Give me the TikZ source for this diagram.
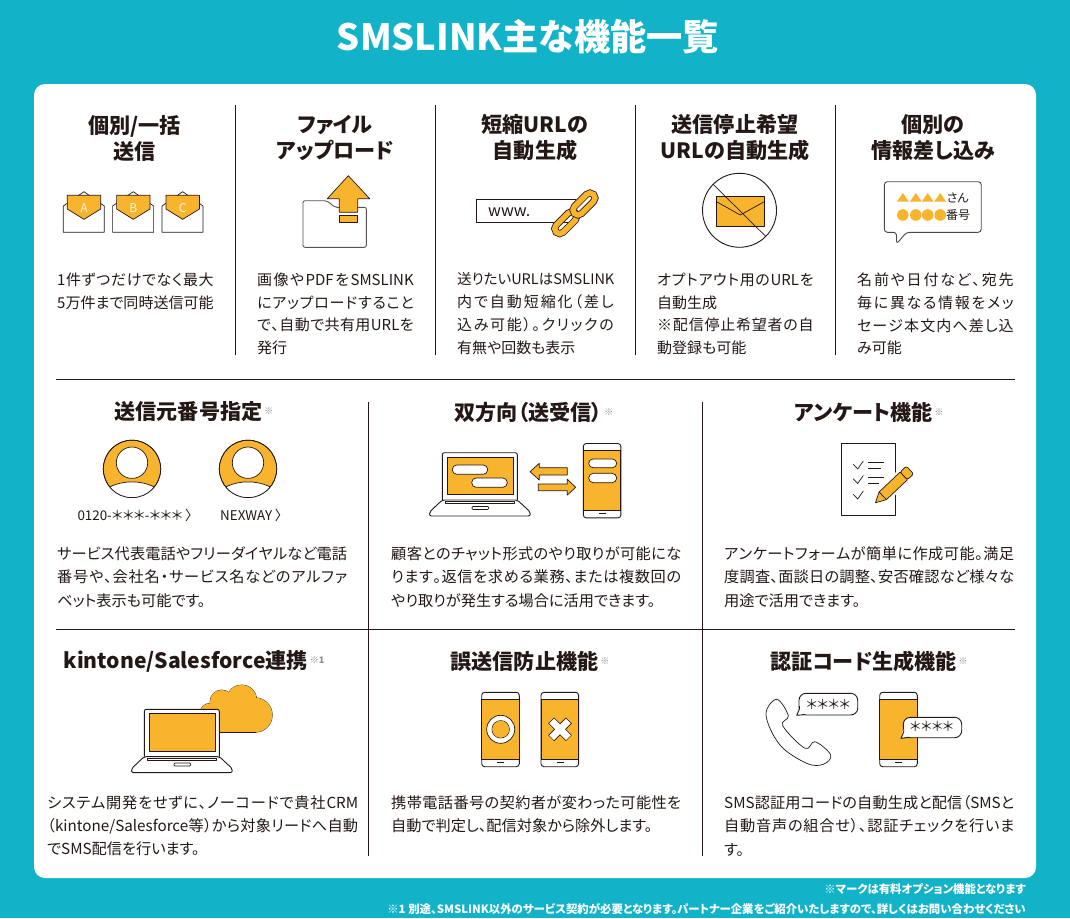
\documentclass[tikz,border=0pt]{standalone}
\usepackage{fontspec}
\setmainfont{Noto Sans CJK JP}[RawFeature=+palt]
\definecolor{teal1}{HTML}{12B3C9}
\definecolor{yel}{HTML}{F9B42D}
\definecolor{ink}{HTML}{231815}
% all CJK characters form one inter-character class, so that lines can be justified
\newXeTeXintercharclass\cjkclass
\newcount\cjkloop
\newcommand{\setcjk}[2]{\cjkloop=#1\relax
  \loop\ifnum\cjkloop<#2\relax\XeTeXcharclass\cjkloop=\cjkclass\relax\advance\cjkloop by 1\relax\repeat}
\setcjk{"3000}{"3100}
\setcjk{"4E00}{"A000}
\setcjk{"FF00}{"FFF0}
\XeTeXcharclass"203B=\cjkclass\relax
\XeTeXcharclass"30FB=\cjkclass\relax
\newcommand{\icglue}{\hskip 0pt plus 1fil\relax}
\XeTeXinterchartoks 0 \cjkclass = {\icglue}
\XeTeXinterchartoks \cjkclass 0 = {\icglue}
\XeTeXinterchartoks \cjkclass \cjkclass = {\icglue}
\newcommand{\jline}[2]{\hbox to #1{\XeTeXinterchartokenstate=1 #2\XeTeXinterchartokenstate=0 }}
\newcommand{\jtop}[1]{\jline{156.5pt}{#1}}
\newcommand{\jtopS}[1]{\jline{156.5pt}{\fontsize{14.5}{22.8}\selectfont #1}}
\newcommand{\jmid}[1]{\jline{290pt}{#1}}
\newcommand{\jwide}[1]{\jline{311pt}{#1}}
\tikzset{
  bodytext/.style={anchor=north west,inner sep=0pt,align=left,text=ink,font=\fontsize{15.2}{23.4}\selectfont},
  bodytop/.style={anchor=north west,inner sep=0pt,align=left,text=ink,font=\fontsize{15}{22.8}\selectfont},
  hdr/.style={anchor=center,inner sep=0pt,align=center,text=ink,font=\bfseries\fontsize{21.1}{26}\selectfont},
  foot/.style={anchor=east,inner sep=0pt,text=white,font=\bfseries\fontsize{11.4}{12}\selectfont},
  rulez/.style={draw=ink,line width=0.9pt},
  ic/.style={draw=ink,line width=0.9pt,line join=round},
  thin1/.style={draw=ink,line width=0.7pt,line join=round},
}
\newcommand{\nt}{\kern2pt{\color{black!45}\fontsize{9}{9}\selectfont\raisebox{5pt}{※}}}
\newcommand{\phoneicon}[2]{%
 \begin{scope}[shift={(#1,#2)}]
  \draw[ic,fill=white,rounded corners=3pt] (0,0) rectangle (37.6,74.4);
  \fill[yel] (0,6.7) rectangle (37.6,67.4);
  \draw[ic] (0,6.7) -- (37.6,6.7) (0,67.4) -- (37.6,67.4) (0,6.7) -- (0,67.4) (37.6,6.7) -- (37.6,67.4);
  \draw[ic] (15.5,70.2) -- (22.5,70.2);
 \end{scope}}
\newcommand{\laptopicon}[2]{%
 \begin{scope}[shift={(#1,#2)}]
  \draw[ic,fill=white,rounded corners=2pt] (0,47.3) -- (0,0) -- (75,0) -- (75,47.3);
  \draw[thin1,fill=yel] (5,4.5) rectangle (71,42);
  \draw[ic,fill=white,rounded corners=2pt] (0,47.3) -- (-12.8,59.3) -- (-12.8,63.3) -- (88,63.3) -- (88,59.3) -- (75,47.3) -- cycle;
  \draw[thin1] (3.4,49) rectangle (72.4,51);
  \draw[thin1,rounded corners=1pt] (29.7,53.7) rectangle (46.4,56.7);
 \end{scope}}
\newcommand{\envicon}[2]{%
 \begin{scope}[shift={(#1,0)}]
  \draw[thin1,fill=white] (63.3,206) -- (84,191.7) -- (104.3,206) -- (104.3,232.3) -- (63.3,232.3) -- cycle;
  \draw[thin1,fill=yel] (67.3,195.3) -- (100.7,195.3) -- (100.7,209) -- (84,219.3) -- (67.3,209) -- cycle;
  \node[inner sep=0pt,text=white!85!yel,font=\fontsize{12}{12}\selectfont] (env#2) at (84,208) {#2};
 \end{scope}}
\newcommand{\personicon}[1]{%
 \begin{scope}[shift={(#1,0)}]
  \draw[thin1,fill=yel] (0,468.9) circle (28.7);
  \begin{scope}
   \clip (0,468.9) circle (28.7);
   \draw[thin1,fill=white] (-30,492) .. controls (-14,478.5) and (14,478.5) .. (30,492) -- (30,500) -- (-30,500) -- cycle;
  \end{scope}
  \draw[thin1] (0,468.9) circle (28.7);
  \draw[thin1,fill=white] (0,462.7) circle (15.7);
 \end{scope}}
\newcommand{\chainlink}[2]{%
 \begin{scope}[shift={(#1,#2)},rotate=45]
  \draw[ink,line width=7pt,rounded corners=5pt] (-13.5,-5) rectangle (13.5,5);
  \draw[yel,line width=5.4pt,rounded corners=5pt] (-13.5,-5) rectangle (13.5,5);
 \end{scope}}
\begin{document}
\begin{tikzpicture}[x=1pt,y=-1pt]
\useasboundingbox (0,0) rectangle (1070,918);
\fill[teal1] (0,0) rectangle (1070,918);
\fill[white,rounded corners=11pt] (34,84) rectangle (1036,878);
\node[inner sep=0pt,text=white,font=\bfseries\fontsize{36.2}{40}\selectfont] (title) at (528,37) {SMSLINK主な機能一覧};

% dividers
\foreach \x in {235,435,635,835} \draw[rulez] (\x,105) -- (\x,355);
\draw[rulez] (56,379) -- (1015,379);
\draw[rulez] (56,629) -- (1015,629);
\foreach \x in {368,702} \draw[rulez] (\x,402) -- (\x,856);

% top row headers
\node[hdr] (h1) at (134.5,138) {個別/一括\\送信};
\node[hdr] (h2) at (335,138) {ファイル\\アップロード};
\node[hdr] (h3) at (535,138) {短縮URLの\\自動生成};
\node[hdr] (h4) at (735,138) {送信停止希望\\URLの自動生成};
\node[hdr] (h5) at (933,138) {個別の\\情報差し込み};

% top row bodies
\node[bodytop] (b1) at (57,272.6) {\jtop{1件ずつだけでなく最大}\\\jtop{5万件まで同時送信可能}};
\node[bodytop] (b2) at (257,272.6) {\jtop{画像やPDFをSMSLINK}\\\jtop{にアップロードすること}\\\jtop{で、自動で共有用URLを}\\発行};
\node[bodytop] (b3) at (457,272.6) {\jtopS{送りたいURLはSMSLINK}\\\jtop{内で自動短縮化（差し}\\\jtop{込み可能）。クリックの}\\有無や回数も表示};
\node[bodytop] (b4) at (657,272.6) {\jtop{オプトアウト用のURLを}\\自動生成\\\jtop{※配信停止希望者の自}\\動登録も可能};
\node[bodytop] (b5) at (857,272.6) {\jtop{名前や日付など、宛先}\\\jtop{毎に異なる情報をメッ}\\\jtop{セージ本文内へ差し込}\\み可能};

% row 2
\node[hdr] (h6) at (194,412) {送信元番号指定\nt};
\node[hdr] (h7) at (534,412) {双方向（送受信）\nt};
\node[hdr] (h8) at (869,412) {アンケート機能\nt};
\node[bodytext] (b6) at (57,546.2) {\jmid{サービス代表電話やフリーダイヤルなど電話}\\\jmid{番号や、会社名・サービス名などのアルファ}\\ベット表示も可能です。};
\node[bodytext] (b7) at (391,546.2) {\jmid{顧客とのチャット形式のやり取りが可能にな}\\\jmid{ります。返信を求める業務、または複数回の}\\やり取りが発生する場合に活用できます。};
\node[bodytext] (b8) at (724,546.2) {\jmid{アンケートフォームが簡単に作成可能。満足}\\\jmid{度調査、面談日の調整、安否確認など様々な}\\用途で活用できます。};

% row 3
\node[hdr] (h9) at (194,661) {kintone/Salesforce連携\kern2pt{\color{black!45}\fontsize{9}{9}\selectfont\raisebox{5pt}{※1}}};
\node[hdr] (h10) at (530,661) {誤送信防止機能\nt};
\node[hdr] (h11) at (869,661) {認証コード生成機能\nt};
\node[bodytext] (b9) at (47,795.2) {\jwide{システム開発をせずに、ノーコードで貴社CRM}\\\jwide{（kintone/Salesforce等）から対象リードへ自動}\\でSMS配信を行います。};
\node[bodytext] (b10) at (391,795.2) {\jmid{携帯電話番号の契約者が変わった可能性を}\\自動で判定し、配信対象から除外します。};
\node[bodytext] (b11) at (724,795.2) {\jmid{SMS認証用コードの自動生成と配信（SMSと}\\\jmid{自動音声の組合せ）、認証チェックを行いま}\\す。};

% footer
\node[foot] (f1) at (1026,889) {※マークは有料オプション機能となります};
\node[foot] (f2) at (1026,909) {※1 別途、SMSLINK以外のサービス契約が必要となります。パートナー企業をご紹介いたしますので、詳しくはお問い合わせください};

% envelopes
\envicon{0}{A}
\envicon{49.3}{B}
\envicon{98.7}{C}

% folder + arrow
\draw[ic,draw=ink!75,fill=white,rounded corners=2pt] (303,200.7) -- (326.7,200.7) -- (335,207.3) -- (366.3,207.3) -- (366.3,247.3) -- (303,247.3) -- cycle;
\draw[thin1,fill=yel] (348.3,175.7) -- (369.7,198.7) -- (357.7,198.7) -- (357.7,212.3) -- (339.3,212.3) -- (339.3,198.7) -- (327.3,198.7) -- cycle;
\draw[thin1,fill=yel] (339.3,215.3) rectangle (357.7,222.3);

% www + chain
\draw[ic,fill=white] (576,199.3) -- (476.2,199.3) -- (476.2,222.3) -- (570,222.3);
\node[anchor=west,inner sep=0pt,text=ink,font=\fontsize{16}{16}\selectfont] (www) at (488,212) {www.};
\chainlink{565.7}{222.7}
\chainlink{584}{204}

% no mail
\draw[ic] (739.5,210.3) circle (37);
\draw[ic,fill=yel] (716.5,196.7) rectangle (764.2,226.3);
\draw[thin1] (716.5,201.7) -- (740.3,215) -- (764.2,201.7);
\draw[thin1] (712.8,184) -- (765.3,236);

% bubble with placeholders
\draw[ic,draw=ink!80,fill=white,rounded corners=3pt] (884.4,181.7) -- (981.2,181.7) -- (981.2,232.3) -- (906.5,232.3) -- (896.5,244) -- (896.5,232.3) -- (884.4,232.3) -- cycle;
\foreach \x in {902.8,915.8,927.7,940.2} {
 \fill[yel] (\x,193) -- (\x+6,201.7) -- (\x-6,201.7) -- cycle;
 \fill[yel] (\x,215) circle (5.8);
}
\node[anchor=west,inner sep=0pt,text=ink,font=\fontsize{12}{12}\selectfont] (san) at (946.5,198) {さん};
\node[anchor=west,inner sep=0pt,text=ink,font=\fontsize{12}{12}\selectfont] (ban) at (946,215.5) {番号};

% persons
\personicon{132}
\personicon{248}
\node[anchor=west,inner sep=0pt,text=ink,font=\fontsize{13.4}{14}\selectfont] (tel) at (77.3,515) {0120-＊＊＊-＊＊＊ 〉};
\node[anchor=west,inner sep=0pt,text=ink,font=\fontsize{13.4}{14}\selectfont] (nex) at (220,515) {NEXWAY 〉};

% two-way
\laptopicon{442.3}{452.7}
\draw[thin1,fill=white,rounded corners=4.5pt] (452.3,474.3) -- (452.3,465) -- (487.7,465) -- (487.7,474.3) -- cycle;
\draw[thin1,fill=white,rounded corners=4.5pt] (471.7,478) -- (507.3,478) -- (507.3,487.3) -- (471.7,487.3) -- cycle;
\draw[thin1,fill=yel] (530,471.7) -- (539.3,463.3) -- (539.3,467.7) -- (567.3,467.7) -- (567.3,475) -- (539.3,475) -- (539.3,480) -- cycle;
\draw[thin1,fill=yel] (575.7,487.3) -- (567.3,479.3) -- (567.3,484) -- (538.3,484) -- (538.3,490.7) -- (567.3,490.7) -- (567.3,495) -- cycle;
\phoneicon{583.3}{443.5}
\draw[thin1,fill=white,rounded corners=4.3pt] (588.7,459) rectangle (616.7,467.7);
\draw[thin1,fill=white,rounded corners=4.6pt] (588.7,473.3) rectangle (616.7,482.7);

% survey
\draw[ic,fill=white] (841.7,443.3) rectangle (895.7,515.3);
\foreach \d in {0,14.5,30} \draw[thin1] (853.3,464.3+\d) -- (857.7,469+\d) -- (863.3,461+\d);
\draw[thin1] (868.3,462.3) -- (884,462.3) (868.3,468.3) -- (881,468.3) (868.3,477.3) -- (884,477.3) (868.3,483.3) -- (879,483.3);
\begin{scope}[shift={(875.5,502.7)},rotate=43.5]
 \fill[white] (6,-8) rectangle (50,8);
 \draw[thin1,fill=yel] (0,0) -- (10,-5.3) -- (39,-5.3) -- (39,5.3) -- (10,5.3) -- cycle;
 \draw[thin1,fill=yel,rounded corners=2pt] (39,-5.3) -- (47.5,-5.3) -- (47.5,5.3) -- (39,5.3) -- cycle;
 \draw[thin1] (10,-5.3) -- (10,5.3);
\end{scope}

% cloud + laptop
\draw[thin1] (255,715) circle (17.3) (241.7,700) circle (15) (221.7,701.7) circle (11.7) (210,713.3) circle (10);
\fill[yel] (255,715) circle (17.3) (241.7,700) circle (15) (221.7,701.7) circle (11.7) (210,713.3) circle (10);
\fill[yel] (205,708) rectangle (256,732);
\draw[thin1] (215,732.3) -- (256,732.3);
\laptopicon{144.3}{709.3}

% phones O and X
\phoneicon{481.7}{692.3}
\draw[thin1,fill=white,even odd rule] (500.7,729.3) circle (14) (500.7,729.3) circle (8.7);
\fill[yel] (500.7,729.3) circle (8.4);
\phoneicon{541}{692.3}
\draw[ink,line width=8.4pt] (551.2,720.5) -- (568.8,738.1) (568.8,720.5) -- (551.2,738.1);
\draw[white,line width=6.8pt] (551.6,720.9) -- (568.4,737.7) (568.4,720.9) -- (551.6,737.7);

% auth code
\draw[thin1,fill=white,line join=round] plot[smooth cycle,tension=0.6] coordinates {(776.7,699.3) (788.3,715.7) (782.7,725.7) (805,748.3) (815,741.7) (830.7,755) (823.3,764.3) (806.7,763.3) (780,745) (766,715)};
\draw[ic,fill=white,rounded corners=7pt] (799,693.3) -- (857.7,693.3) -- (857.7,715) -- (799,715) -- cycle;
\fill[white] (796.7,715.3) -- (799,706) -- (806,713) -- cycle;
\draw[ic] (799.4,706) -- (799.4,709) -- (796.7,715.3) -- (804,714.7);
\node[inner sep=0pt,text=ink,font=\fontsize{13.4}{14}\selectfont] (code1) at (828.3,704.3) {＊＊＊＊};
\phoneicon{879.7}{692.3}
\draw[ic,fill=white,rounded corners=7pt] (903.3,717.3) -- (961.7,717.3) -- (961.7,737.7) -- (903.3,737.7) -- cycle;
\fill[white] (901,738.3) -- (903.3,729) -- (910,736) -- cycle;
\draw[ic] (903.7,729) -- (903.7,732) -- (901,738.3) -- (908,737.5);
\node[inner sep=0pt,text=ink,font=\fontsize{13.4}{14}\selectfont] (code2) at (931.7,726.7) {＊＊＊＊};
\end{tikzpicture}
\end{document}
